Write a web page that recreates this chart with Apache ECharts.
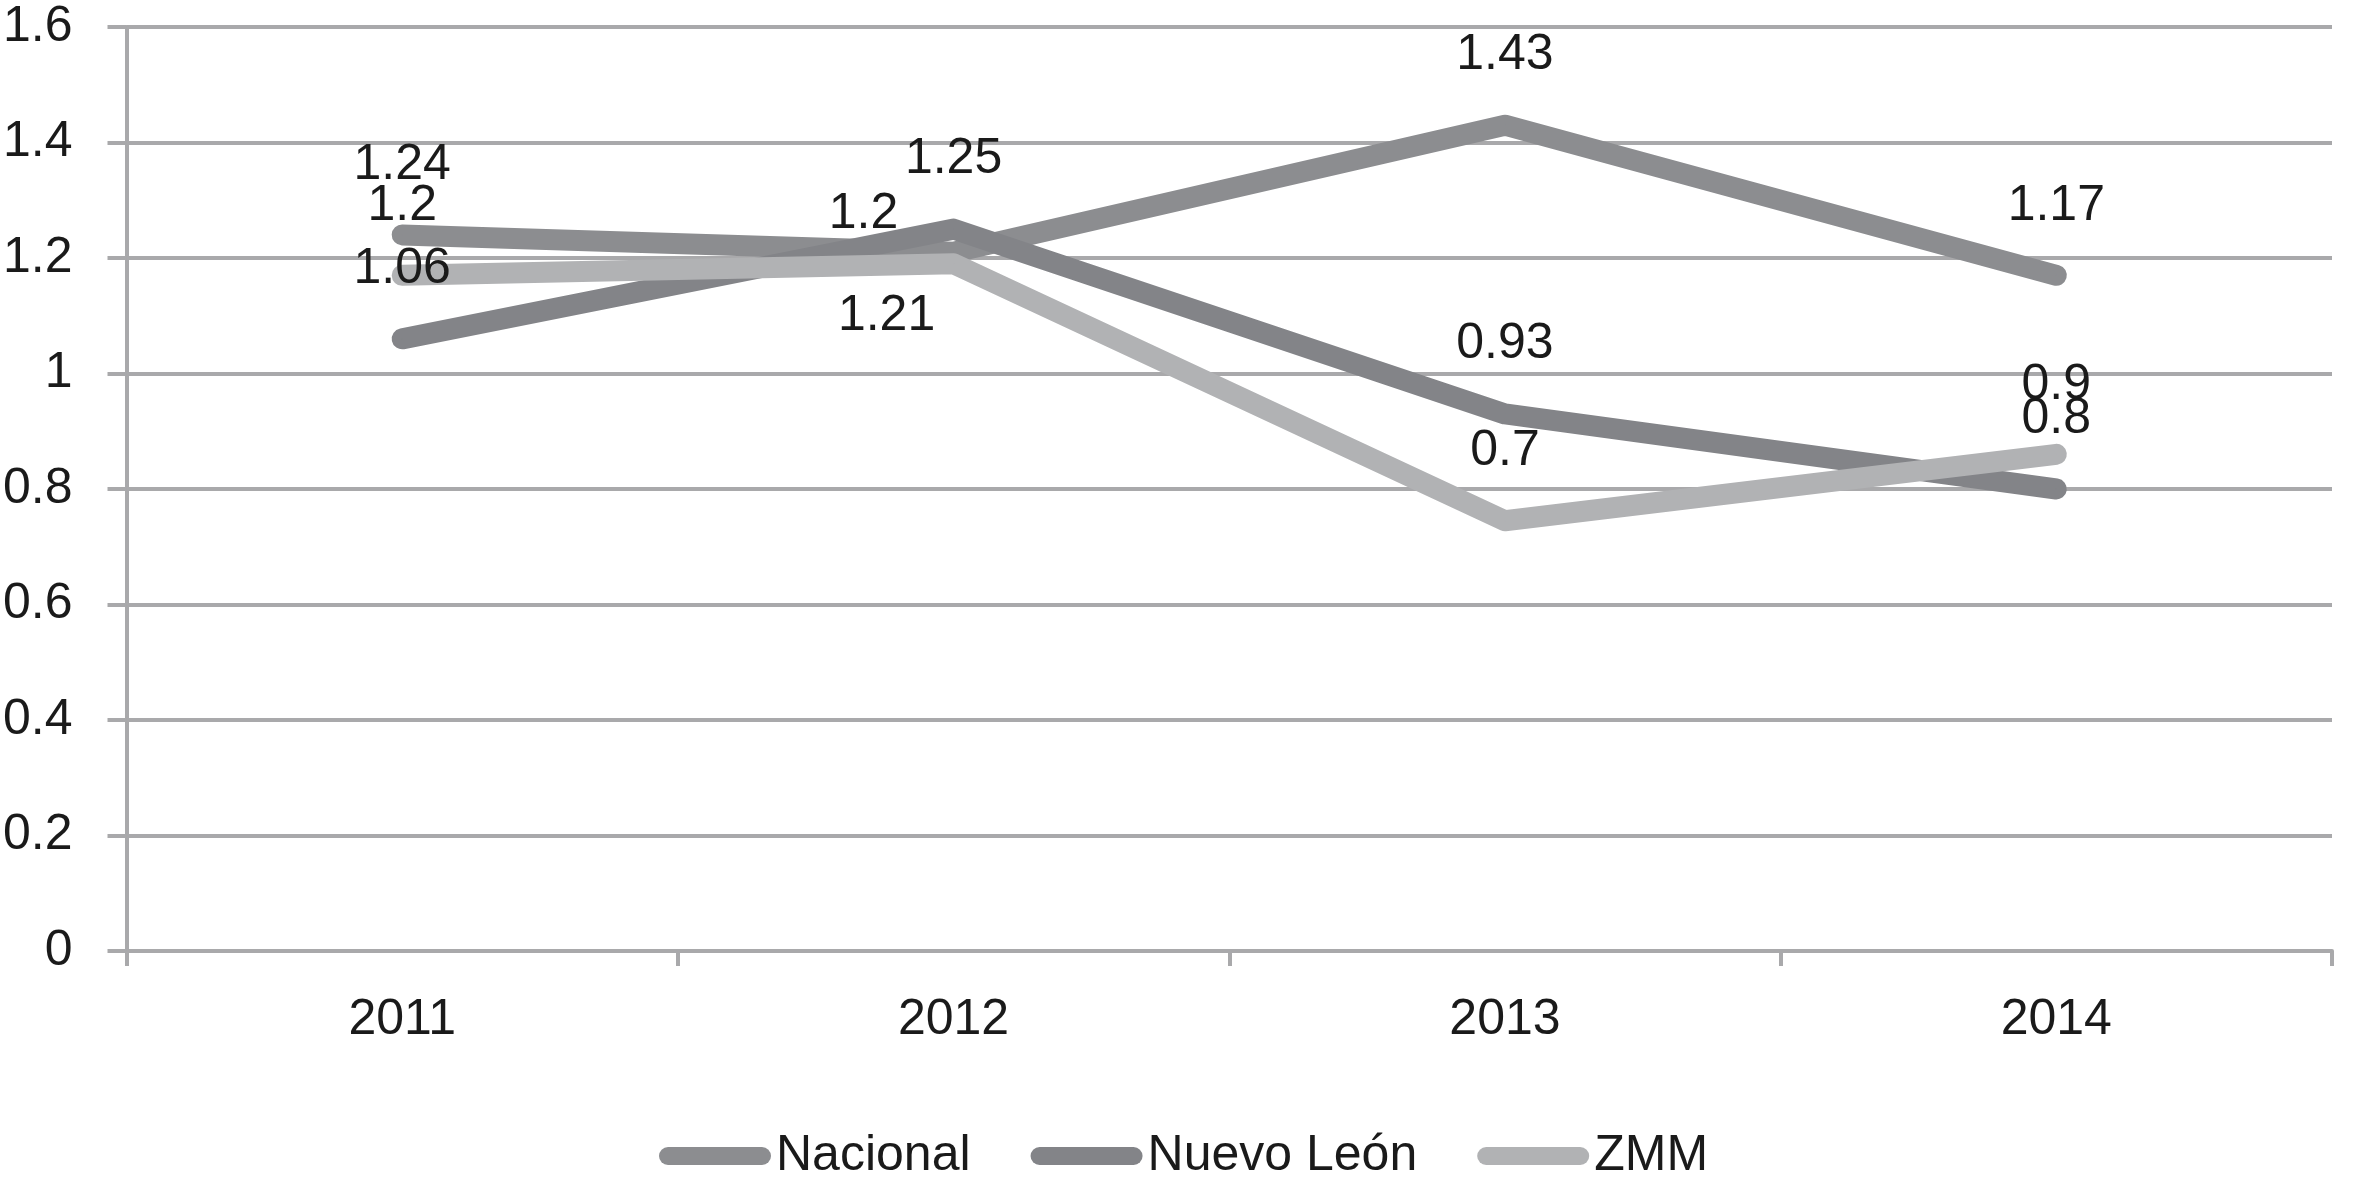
<!DOCTYPE html>
<html>
<head>
<meta charset="utf-8">
<script src="https://cdn.jsdelivr.net/npm/echarts@6/dist/echarts.min.js"></script>
<style>
html,body{margin:0;padding:0;background:#fff;}
#chart{width:2353px;height:1188px;}
</style>
</head>
<body>
<div id="chart"></div>
<script>
const categories = ['2011', '2012', '2013', '2014'];
const nacional = [1.24, 1.21, 1.43, 1.17];
const nuevoLeon = [1.06, 1.25, 0.93, 0.80];
const zmm = [1.17, 1.19, 0.745, 0.86];
const seriesNames = ['Nacional', 'Nuevo León', 'ZMM'];
const yTicks = { min: 0, max: 1.6, interval: 0.2 };

const FONT = '"Liberation Sans", Arial, sans-serif';
const FS = 50;
const TXT = '#1a1a1a';
const GRID = '#a9a9ab';
const colors = ['#8c8d90', '#838488', '#b1b2b4'];

// label offsets used only for the manually nudged labels in 2012
const labelOffsets = {
  'Nacional': { 1: [-67, 133] },
  'ZMM': { 1: [-90, 20] }
};

function buildData(name, values) {
  return values.map((v, i) => {
    const o = { value: v };
    const off = labelOffsets[name] && labelOffsets[name][i];
    if (off) o.label = { offset: off };
    return o;
  });
}

function makeSeries(name, values, color, decimals) {
  return {
    name: name,
    type: 'line',
    data: buildData(name, values),
    symbol: 'circle',
    symbolSize: 1,
    showSymbol: true,
    itemStyle: { color: color },
    lineStyle: { color: color, width: 21, cap: 'round', join: 'round' },
    label: {
      show: true,
      position: 'top',
      distance: 44,
      color: TXT,
      fontFamily: FONT,
      fontSize: FS,
      formatter: p => decimals ? p.value.toFixed(decimals) : String(p.value)
    },
    emphasis: { disabled: true },
    animation: false
  };
}

const legendIcon = 'path://M9,0 H103 A9,9 0 0 1 103,18 H9 A9,9 0 0 1 9,0 Z';

const chart = echarts.init(document.getElementById('chart'));
chart.setOption({
  backgroundColor: '#ffffff',
  animation: false,
  grid: { left: 124, right: 21, top: 27, bottom: 237, containLabel: false },
  legend: {
    data: seriesNames.map(n => ({ name: n, icon: legendIcon })),
    left: 654,
    top: 1126,
    itemWidth: 112,
    itemHeight: 18,
    itemGap: 60,
    textStyle: { color: TXT, fontFamily: FONT, fontSize: FS },
    selectedMode: false
  },
  xAxis: {
    type: 'category',
    data: categories,
    boundaryGap: true,
    axisLine: { show: true, lineStyle: { color: GRID, width: 4 } },
    axisTick: { show: true, alignWithLabel: false, length: 15, lineStyle: { color: GRID, width: 4 } },
    axisLabel: { color: TXT, fontFamily: FONT, fontSize: FS, margin: 44 },
    splitLine: { show: false }
  },
  yAxis: {
    type: 'value',
    min: yTicks.min,
    max: yTicks.max,
    interval: yTicks.interval,
    axisLine: { show: true, lineStyle: { color: GRID, width: 4 } },
    axisTick: { show: true, length: 19, lineStyle: { color: GRID, width: 4 } },
    axisLabel: { color: TXT, fontFamily: FONT, fontSize: FS, margin: 54,
      formatter: v => String(Math.round(v * 10) / 10) },
    splitLine: { show: true, lineStyle: { color: GRID, width: 4 } }
  },
  series: [
    makeSeries('Nacional', nacional, colors[0], 0),
    makeSeries('Nuevo León', nuevoLeon, colors[1], 0),
    makeSeries('ZMM', zmm, colors[2], 1)
  ]
});
</script>
</body>
</html>
